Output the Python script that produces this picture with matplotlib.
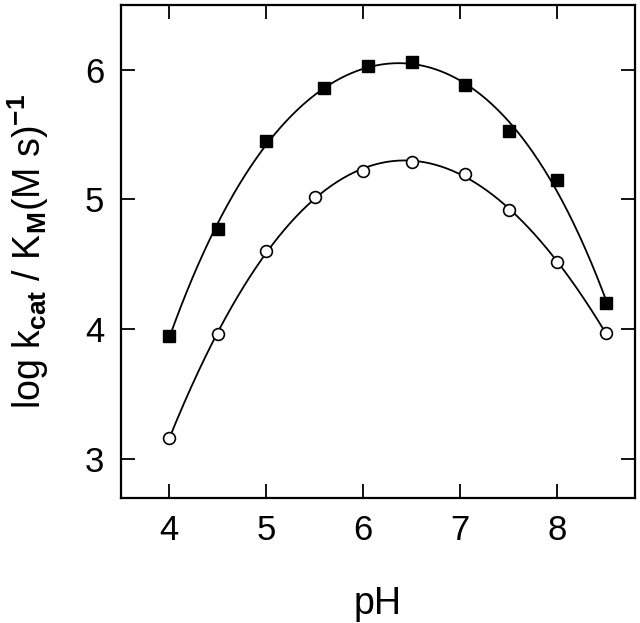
import numpy as np
import matplotlib
matplotlib.use("Agg")
import matplotlib.pyplot as plt

plt.rcParams['font.family'] = ['Liberation Sans', 'DejaVu Sans']
plt.rcParams['mathtext.fontset'] = 'custom'
plt.rcParams['mathtext.rm'] = 'Liberation Sans'
plt.rcParams['mathtext.it'] = 'Liberation Sans:italic'
plt.rcParams['mathtext.bf'] = 'Liberation Sans:bold'

# Data (filled squares)
ph_sq = [4.0, 4.5, 5.0, 5.6, 6.05, 6.5, 7.05, 7.5, 8.0, 8.5]
logk_sq = [3.95, 4.77, 5.45, 5.86, 6.03, 6.06, 5.88, 5.53, 5.15, 4.20]
# Data (open circles)
ph_ci = [4.0, 4.5, 5.0, 5.5, 6.0, 6.5, 7.05, 7.5, 8.0, 8.5]
logk_ci = [3.16, 3.96, 4.60, 5.02, 5.22, 5.29, 5.20, 4.92, 4.52, 3.97]

xticks = [4, 5, 6, 7, 8]
yticks = [3, 4, 5, 6]

fig = plt.figure(figsize=(6.4, 6.23), dpi=100)
ax = fig.add_axes([0.1886, 0.2011, 0.992 - 0.1886, 0.992 - 0.2011])

xs = np.linspace(4.0, 8.5, 300)
for px, py in [(ph_sq, logk_sq), (ph_ci, logk_ci)]:
    coef = np.polyfit(px, py, 4)
    ax.plot(xs, np.polyval(coef, xs), color='black', lw=1.3, zorder=2)

ax.plot(ph_sq, logk_sq, 's', ms=8, color='black', zorder=3)
ax.plot(ph_ci, logk_ci, 'o', ms=8.5, mfc='white', mec='black', mew=1.2, zorder=3)

ax.set_xlim(3.5, 8.8)
ax.set_ylim(2.7, 6.5)
ax.set_xticks(xticks)
ax.set_yticks(yticks)
ax.tick_params(direction='in', length=10, width=1.3, labelsize=25,
               top=True, right=True, pad=12)
for s in ax.spines.values():
    s.set_linewidth(1.6)

ax.set_xlabel('pH', fontsize=27, labelpad=28)
ax.set_ylabel(r'log k$_{\mathbf{cat}}$ / K$_{\mathbf{M}}$(M s)$^{\mathbf{-1}}$',
              fontsize=27, labelpad=24)

fig.savefig('out.png', dpi=100)
